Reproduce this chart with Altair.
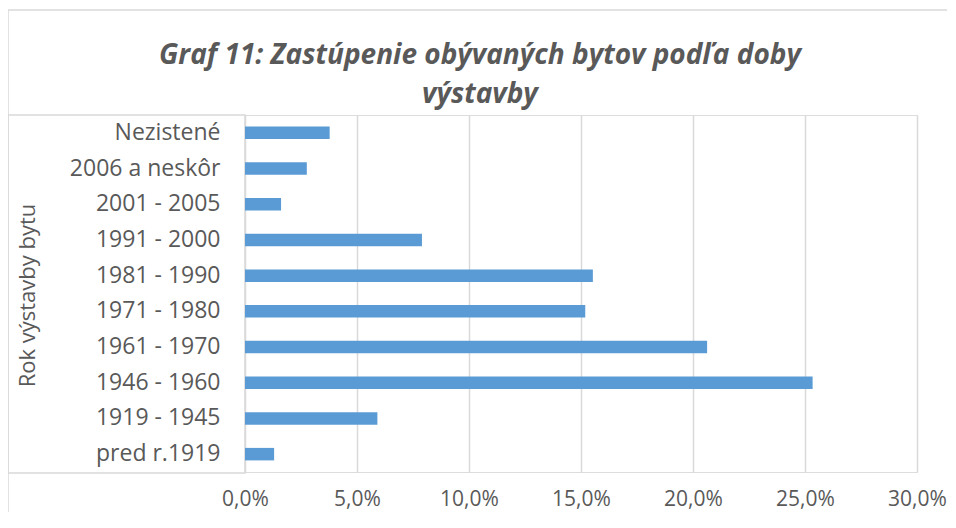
import altair as alt
import pandas as pd

categories = ["Nezistené", "2006 a neskôr", "2001 - 2005", "1991 - 2000", "1981 - 1990",
              "1971 - 1980", "1961 - 1970", "1946 - 1960", "1919 - 1945", "pred r.1919"]
shares = [0.0378, 0.0276, 0.0161, 0.079, 0.1553, 0.1519, 0.2063, 0.2534, 0.0591, 0.0130]
x_ticks = [0, 0.05, 0.10, 0.15, 0.20, 0.25, 0.30]
title_lines = ["Graf 11: Zastúpenie obývaných bytov podľa doby", "výstavby"]

df = pd.DataFrame({"kat": categories, "podiel": shares})

FONT = "Open Sans"
TXT = "#595959"
GRID = "#D9D9D9"

W, H = 672, 357

bars = alt.Chart(df).mark_bar(color="#5B9BD5").encode(
    x=alt.X("podiel:Q",
            scale=alt.Scale(domain=[0, 0.3], nice=False),
            axis=alt.Axis(values=x_ticks, title=None, grid=True, gridColor=GRID, gridWidth=1.5,
                          domain=False, ticks=False, labelPadding=16, labelFontSize=21,
                          labelFlush=False,
                          labelColor=TXT, labelFont=FONT,
                          labelExpr="replace(format(datum.value, '.1%'), '.', ',')")),
    y=alt.Y("kat:N", sort=categories,
            scale=alt.Scale(paddingInner=0.65, paddingOuter=0.325),
            axis=alt.Axis(title="Rok výstavby bytu", domain=False, ticks=False, grid=False,
                          labelPadding=25, labelFontSize=23, labelColor=TXT, labelFont=FONT,
                          titleFont=FONT, titleFontSize=22, titleColor=TXT, titleFontWeight="normal",
                          titleAngle=270, titleBaseline="middle", titleAlign="center",
                          titleX=-218, titleY=180)),
)

one = alt.Data(values=[{"a": 1}])
rule = alt.Chart(one).mark_rule(color=GRID, strokeWidth=1.5)
outer_top = rule.encode(x=alt.value(-237), x2=alt.value(730), y=alt.value(-105))
outer_left = rule.encode(x=alt.value(-237), y=alt.value(-105), y2=alt.value(430))
inner = alt.Chart(one).mark_rect(fill="white", fillOpacity=0, stroke=GRID, strokeWidth=1.5).encode(
    x=alt.value(-237), x2=alt.value(0), y=alt.value(0), y2=alt.value(358))

def title_line(txt, ypos):
    return alt.Chart(one).mark_text(
        font=FONT, fontSize=28, fontStyle="italic", fontWeight="bold", color=TXT,
        align="center", baseline="middle"
    ).encode(x=alt.value(235), y=alt.value(ypos), text=alt.value(txt))

t1 = title_line(title_lines[0], -59)
t2 = title_line(title_lines[1], -20)

chart = alt.layer(outer_top, outer_left, inner, bars, t1, t2).properties(
    width=W, height=H,
    autosize=alt.AutoSizeParams(type="none"),
    padding={"left": 237, "top": 107, "right": 30, "bottom": 40},
).configure_view(stroke=None).configure(background="white")

chart.save("out.html", embed_options={"renderer": "svg", "actions": False})
